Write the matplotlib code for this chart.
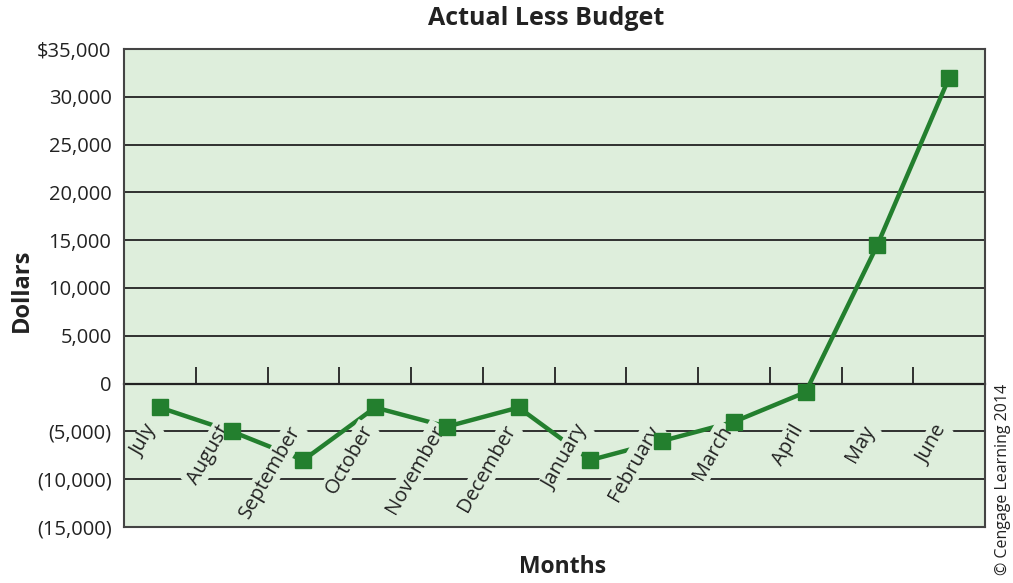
import matplotlib
matplotlib.use("Agg")
import matplotlib.pyplot as plt
from matplotlib.ticker import FuncFormatter

months = ["July", "August", "September", "October", "November", "December",
          "January", "February", "March", "April", "May", "June"]
actual_less_budget = [-2500, -5000, -8000, -2500, -4500, -2500,
                      -8000, -6000, -4000, -900, 14500, 32000]
y_ticks = [-15000, -10000, -5000, 0, 5000, 10000, 15000, 20000, 25000, 30000, 35000]

plt.rcParams["font.family"] = ["Open Sans", "DejaVu Sans"]

BG = "#deeedc"
LINE = "#237f2e"
INK = "#222222"

fig = plt.figure(figsize=(10.13, 5.83), dpi=100)
ax = fig.add_axes([124 / 1013, 1 - 527 / 583, (985 - 124) / 1013, (527 - 49) / 583])
ax.set_facecolor(BG)

x = list(range(len(months)))
ax.set_xlim(-0.5, len(months) - 0.5)
ax.set_ylim(min(y_ticks), max(y_ticks))

ax.set_yticks(y_ticks)


def dollars(v, _pos):
    if v == max(y_ticks):
        return f"${v:,.0f}"
    if v < 0:
        return f"({-v:,.0f})"
    return f"{v:,.0f}"


ax.yaxis.set_major_formatter(FuncFormatter(dollars))
ax.tick_params(axis="y", length=0, pad=9, labelsize=14.5, labelcolor=INK)
ax.set_xticks([])
ax.grid(axis="y", color=INK, linewidth=1.3, zorder=1)
ax.set_axisbelow(True)
for sp in ax.spines.values():
    sp.set_color("#444444")
    sp.set_linewidth(1.5)

# category axis crossing at zero, with upward boundary ticks
zero_frac = (0 - min(y_ticks)) / (max(y_ticks) - min(y_ticks))
cat_axis = ax.secondary_xaxis(zero_frac)
cat_axis.set_xticks([i + 0.5 for i in x[:-1]])
cat_axis.tick_params(direction="in", length=12, width=1.3, color=INK, labelbottom=False)
cat_axis.spines["bottom"].set_color(INK)
cat_axis.spines["bottom"].set_linewidth(1.6)

# connecting line sits under the labels, square markers above them
ax.plot(x, actual_less_budget, color=LINE, linewidth=3.2, zorder=3, clip_on=False)
ax.plot(x, actual_less_budget, linestyle="none", marker="s", color=LINE,
        markersize=11.5, zorder=5, clip_on=False)

# rotated month labels just below the zero line
for xi, name in zip(x, months):
    ax.annotate(name, xy=(xi, 0), xytext=(-5, -31), textcoords="offset points",
                rotation=60, rotation_mode="anchor", ha="right", va="center",
                fontsize=14.5, color=INK, zorder=4,
                bbox=dict(boxstyle="square,pad=0.1", facecolor=BG, edgecolor="none"))

fig.text(0.539, 0.968, "Actual Less Budget", ha="center", va="center",
         fontsize=18, fontweight="bold", color=INK)
fig.text(0.555, 0.028, "Months", ha="center", va="center",
         fontsize=16.5, fontweight="bold", color=INK)
fig.text(0.022, 0.502, "Dollars", ha="center", va="center", rotation=90,
         fontsize=17, fontweight="bold", color=INK)
fig.text(0.990, 0.178, "© Cengage Learning 2014", ha="center", va="center",
         rotation=90, fontsize=11.5, color=INK)

fig.savefig("out.png", dpi=100, facecolor="white")
